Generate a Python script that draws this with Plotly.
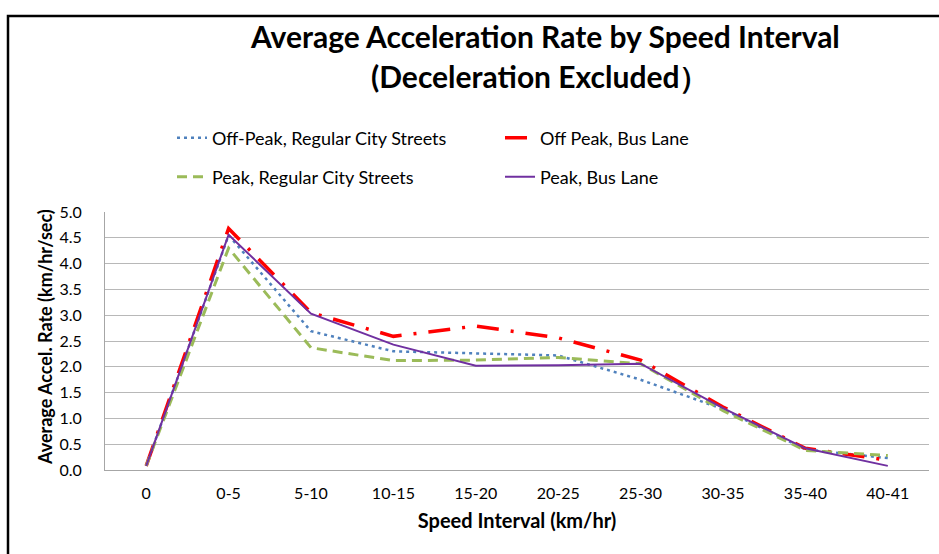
import plotly.graph_objects as go

categories = ["0", "0-5", "5-10", "10-15", "15-20", "20-25", "25-30", "30-35", "35-40", "40-41"]
offpeak_regular = [0.08, 4.55, 2.69, 2.30, 2.26, 2.22, 1.75, 1.18, 0.40, 0.23]
offpeak_buslane = [0.08, 4.68, 3.05, 2.59, 2.79, 2.56, 2.13, 1.22, 0.42, 0.19]
peak_regular = [0.08, 4.30, 2.37, 2.12, 2.13, 2.18, 2.06, 1.15, 0.38, 0.28]
peak_buslane = [0.08, 4.56, 3.03, 2.43, 2.02, 2.03, 2.06, 1.20, 0.42, 0.08]

FONT = "Lato"

fig = go.Figure()
fig.add_trace(go.Scatter(x=categories, y=offpeak_regular, mode="lines",
                         name="Off-Peak, Regular City Streets",
                         line=dict(color="#4F81BD", width=2.5, dash="3px,4px"),
                         legend="legend"))
fig.add_trace(go.Scatter(x=categories, y=offpeak_buslane, mode="lines",
                         name="Off Peak, Bus Lane",
                         line=dict(color="#FF0000", width=3.5, dash="22px,12px,3px,12px"),
                         legend="legend"))
fig.add_trace(go.Scatter(x=categories, y=peak_regular, mode="lines",
                         name="Peak, Regular City Streets",
                         line=dict(color="#9BBB59", width=3, dash="10px,6px"),
                         legend="legend2"))
fig.add_trace(go.Scatter(x=categories, y=peak_buslane, mode="lines",
                         name="Peak, Bus Lane",
                         line=dict(color="#7030A0", width=2),
                         legend="legend2"))

L, R, T, B = 105, 929, 212, 470
W, H = 939, 554
pw, ph = R - L, B - T

def px(x):
    return (x - L) / pw

def py(y):
    return (B - y) / ph

legend_common = dict(orientation="h", xanchor="left", yanchor="middle",
                     font=dict(family=FONT, size=18, color="#000000"),
                     entrywidth=283, entrywidthmode="pixels",
                     bgcolor="rgba(0,0,0,0)", traceorder="normal")

fig.update_layout(
    width=W, height=H,
    margin=dict(l=L, r=W - R, t=T, b=H - B),
    paper_bgcolor="white", plot_bgcolor="white",
    font=dict(family=FONT, color="#000000"),
    legend=dict(x=px(172), y=py(138), **legend_common),
    legend2=dict(x=px(172), y=py(177), **legend_common),
    xaxis=dict(
        type="category", showgrid=False, showline=True, linecolor="#A6A6A6", linewidth=1,
        ticks="", tickfont=dict(family=FONT, size=16, color="#000000"),
        ticklabelstandoff=9,
        title=dict(text="<b>Speed Interval (km/hr)</b>", font=dict(family=FONT, size=20), standoff=12),
        range=[-0.5, len(categories) - 0.5],
    ),
    yaxis=dict(
        range=[0, 5], dtick=0.5, tickformat=".1f",
        showgrid=True, gridcolor="#B8B8B8", gridwidth=1,
        showline=True, linecolor="#A6A6A6", linewidth=1, zeroline=False,
        ticks="outside", ticklen=19, tickcolor="rgba(0,0,0,0)",
        tickfont=dict(family=FONT, size=16, color="#000000"),
    ),
    annotations=[
        dict(text="<b>Average Acceleration Rate by Speed Interval</b>", xref="paper", yref="paper",
             x=px(545), y=py(36), xanchor="center", yanchor="middle", showarrow=False,
             font=dict(family=FONT, size=30, color="#000000")),
        dict(text="<b>(Deceleration Excluded）</b>", xref="paper", yref="paper",
             x=px(540), y=py(76), xanchor="center", yanchor="middle", showarrow=False,
             font=dict(family=FONT, size=30, color="#000000")),
        dict(text="<b>Average Accel. Rate (km/hr/sec)</b>", xref="paper", yref="paper",
             x=px(45), y=py(337), xanchor="center", yanchor="middle", showarrow=False,
             textangle=-90, font=dict(family=FONT, size=18, color="#000000")),
    ],
    shapes=[
        dict(type="rect", xref="paper", yref="paper",
             x0=px(8), x1=px(1000), y0=py(16), y1=py(650),
             line=dict(color="#000000", width=2.5), fillcolor="rgba(0,0,0,0)", layer="below"),
    ],
)

fig.write_html("out.html")
